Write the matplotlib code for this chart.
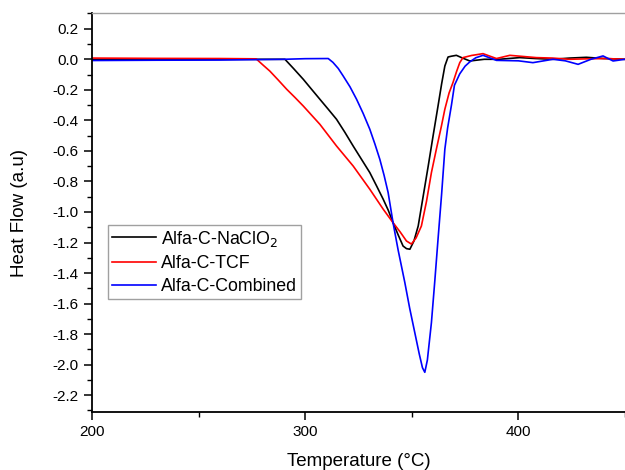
import matplotlib as mpl; mpl.use("Agg")
import matplotlib.pyplot as plt
from matplotlib.ticker import MultipleLocator

plt.rcParams.update({"font.family": ["Liberation Sans", "DejaVu Sans"], "axes.unicode_minus": False})

# Alfa-C-NaClO2
t_naclo2 = [200, 230, 260, 285, 290.5, 294.5, 299.1, 302.9, 306.9, 310.8, 314.7, 318.6, 322.5, 326.4, 330.3,
            333.5, 336.6, 339, 341.2, 343.6, 345.9, 347.5, 349.1, 351, 353, 355.3, 357.7, 360, 362.3, 364,
            365.5, 367, 368.5, 370.9, 373.5, 377.2, 384, 391, 400.6, 408, 416.2, 424, 431.9, 440, 450]
hf_naclo2 = [0.0, -0.003, 0.0, 0.0, 0.0, -0.06, -0.131, -0.195, -0.262, -0.327, -0.393, -0.478, -0.568, -0.655,
             -0.742, -0.83, -0.917, -0.99, -1.07, -1.15, -1.223, -1.24, -1.244, -1.19, -1.092, -0.9, -0.699,
             -0.5, -0.306, -0.16, -0.044, 0.015, 0.02, 0.026, 0.01, -0.011, 0.0, 0.0, 0.011, 0.005, 0.0,
             0.008, 0.013, 0.005, 0.0]

# Alfa-C-TCF
t_tcf = [200, 230, 260, 277, 280, 283.4, 287.3, 291.3, 295.2, 299.1, 306.9, 314.7, 322.5, 330.3, 336.6,
         341.2, 344.5, 347.5, 349.8, 352, 354.5, 356.9, 359.2, 361.5, 363.9, 365.5, 367.5, 369.3, 371,
         372.5, 374, 378, 383.4, 389.7, 396, 408.4, 416, 424, 432, 441.2, 450]
hf_tcf = [0.008, 0.006, 0.005, 0.003, -0.035, -0.077, -0.135, -0.196, -0.25, -0.306, -0.426, -0.568, -0.699,
          -0.851, -0.982, -1.07, -1.13, -1.19, -1.21, -1.17, -1.092, -0.93, -0.742, -0.59, -0.437, -0.327,
          -0.22, -0.153, -0.08, -0.022, 0.011, 0.025, 0.037, 0.005, 0.026, 0.011, 0.008, 0.0, 0.003, 0.005, 0.0]

# Alfa-C-Combined
t_comb = [200, 230, 260, 290, 300, 310.8, 313, 315.5, 317.8, 321, 324.1, 327.2, 330.3, 332.7, 335, 337,
          338.9, 341.2, 343.6, 346.7, 349, 351.4, 353.5, 355, 356.1, 357.3, 359.2, 360.8, 362.3, 364, 365.5,
          366.8, 368.6, 370, 372.5, 375, 377.2, 380, 383.4, 389.7, 400, 406.8, 416.2, 422, 428, 434, 439.7,
          444.4, 450]
hf_comb = [-0.008, -0.006, -0.005, 0.0, 0.004, 0.005, -0.02, -0.06, -0.109, -0.18, -0.262, -0.355, -0.458,
           -0.555, -0.655, -0.76, -0.873, -1.07, -1.25, -1.46, -1.63, -1.79, -1.93, -2.02, -2.05, -1.97,
           -1.725, -1.45, -1.179, -0.88, -0.589, -0.45, -0.3, -0.17, -0.095, -0.045, -0.017, 0.01, 0.026,
           -0.007, -0.01, -0.022, 0.0, -0.01, -0.033, 0.0, 0.022, -0.011, 0.0]

labels = ["Alfa-C-NaClO$_2$", "Alfa-C-TCF", "Alfa-C-Combined"]

fig = plt.figure(figsize=(6.25, 4.7), dpi=100)
ax = fig.add_axes([0.1472, 0.1234, 0.8528, 0.8479])
ax.plot(t_naclo2, hf_naclo2, color="black", lw=1.2, label=labels[0])
ax.plot(t_tcf, hf_tcf, color="#ff0000", lw=1.2, label=labels[1])
ax.plot(t_comb, hf_comb, color="#0000ff", lw=1.2, label=labels[2])

ax.set_xlim(200, 450); ax.set_ylim(-2.31, 0.30)
ax.xaxis.set_major_locator(MultipleLocator(100)); ax.xaxis.set_minor_locator(MultipleLocator(50))
ax.yaxis.set_major_locator(MultipleLocator(0.2)); ax.yaxis.set_minor_locator(MultipleLocator(0.1))
ax.yaxis.set_major_formatter(plt.FuncFormatter(lambda v, p: f"{v:.1f}"))
ax.tick_params(which="major", direction="out", length=6, width=1.1, labelsize=11)
ax.tick_params(which="minor", direction="out", length=3.5, width=1.0)
for s in ["left", "bottom"]:
    ax.spines[s].set_linewidth(1.3)
ax.spines["top"].set_color("#a0a0a0"); ax.spines["top"].set_linewidth(1.0)
ax.spines["right"].set_visible(False)

ax.set_xlabel("Temperature (°C)", fontsize=13.5, labelpad=10)
ax.set_ylabel("Heat Flow (a.u)", fontsize=13.5, labelpad=18)

leg = ax.legend(loc="upper left", bbox_to_anchor=(0.03, 0.469), borderaxespad=0, fontsize=12.8,
                fancybox=False, edgecolor="#a0a0a0", framealpha=1, handlelength=2.5,
                handletextpad=0.3, borderpad=0.2, labelspacing=0.35)
leg.get_frame().set_linewidth(1.0)

fig.savefig("out.png", dpi=100)
